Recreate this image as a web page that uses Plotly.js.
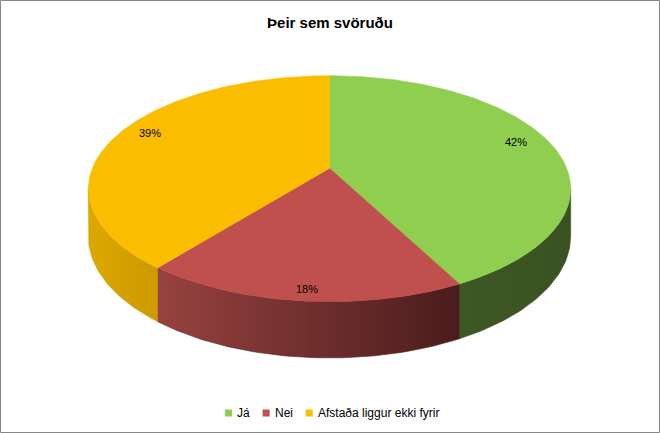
<!DOCTYPE html>
<html>
<head>
<meta charset="utf-8">
<script src="https://cdn.plot.ly/plotly-3.0.1.min.js"></script>
<style>
  html, body { margin: 0; padding: 0; background: #ffffff; }
  #chart { width: 660px; height: 433px; }
</style>
</head>
<body>
<div id="chart"></div>
<script>
// ---- data ----
const categories = ['Já', 'Nei', 'Afstaða liggur ekki fyrir'];
const values = [42.4, 18.3, 39.3];
const chartTitle = 'Þeir sem svöruðu';

// ---- styles ----
const topColors = ['#90CE50', '#C0504D', '#FABD00'];
const sideStops = [
  ['#3E5824', '#3A5222'],
  ['#97423F', '#4A1C1D'],
  ['#DCA800', '#CD9A00']
];
const FONT = '"Liberation Sans", Arial, sans-serif';

// ---- 3D pie geometry (pixel space of the plot) ----
const W = 660, H = 433;
const cx = 329.5, cy = 168.3, R = 237.2, Rs = 109.3, u = 0.1805, thick = 46.1;
const rad = d => d * Math.PI / 180;

function proj(deg, f, down) {
  const t = rad(deg);
  const den = 1 + u * f * Math.cos(t);
  return [cx + f * R * Math.sin(t) / den,
          cy - f * Rs * Math.cos(t) / den + (down || 0) / den];
}

const total = values.reduce((a, b) => a + b, 0);
const starts = [], ends = [];
let acc = 0;
values.forEach(v => { starts.push(acc / total * 360); acc += v; ends.push(acc / total * 360); });

const visL = Math.acos(-u) * 180 / Math.PI, visR = 360 - visL;

const traces = [];
// sides
values.forEach((v, i) => {
  const s = Math.max(starts[i], visL), e = Math.min(ends[i], visR);
  if (e <= s) return;
  const xs = [], ys = [];
  const n = Math.max(2, Math.ceil(e - s));
  for (let k = 0; k <= n; k++) { const p = proj(s + (e - s) * k / n, 1, 0); xs.push(p[0]); ys.push(p[1]); }
  for (let k = n; k >= 0; k--) { const p = proj(s + (e - s) * k / n, 1, thick); xs.push(p[0]); ys.push(p[1]); }
  xs.push(xs[0]); ys.push(ys[0]);
  const xmin = Math.min(...xs), xmax = Math.max(...xs);
  traces.push({
    type: 'scatter', mode: 'lines', x: xs, y: ys, fill: 'toself',
    fillgradient: { type: 'horizontal', start: xmin, stop: xmax,
      colorscale: [[0, sideStops[i][0]], [1, sideStops[i][1]]] },
    line: { width: 0.6, color: sideStops[i][1] }, hoverinfo: 'skip', showlegend: false
  });
});
// top faces
values.forEach((v, i) => {
  const xs = [cx], ys = [cy];
  const s = starts[i], e = ends[i];
  const n = Math.max(2, Math.ceil(e - s));
  for (let k = 0; k <= n; k++) { const p = proj(s + (e - s) * k / n, 1, 0); xs.push(p[0]); ys.push(p[1]); }
  xs.push(cx); ys.push(cy);
  traces.push({
    type: 'scatter', mode: 'lines', x: xs, y: ys, fill: 'toself', fillcolor: topColors[i],
    line: { width: 0.6, color: topColors[i] }, hoverinfo: 'skip', showlegend: false,
    name: categories[i]
  });
});

// data labels
const annotations = [];
values.forEach((v, i) => {
  const m = (starts[i] + ends[i]) / 2;
  const p = proj(m, 0.84, 0);
  annotations.push({
    x: p[0], y: p[1] - 2 - 15 * Math.cos(rad(m)), xref: 'x', yref: 'y',
    text: Math.round(v / total * 100) + '%', showarrow: false,
    font: { family: FONT, size: 11, color: '#000000' }, xanchor: 'center', yanchor: 'middle'
  });
});

// legend (custom, centered at bottom)
const shapes = [];
const ctx = document.createElement('canvas').getContext('2d');
ctx.font = '12px ' + FONT;
const sq = 7, gapTxt = 4, gapItem = 14, legY = 413;
const widths = categories.map(c => ctx.measureText(c).width);
let legW = 0;
widths.forEach((w, i) => { legW += sq + gapTxt + w + (i < widths.length - 1 ? gapItem : 0); });
let lx = 331.5 - legW / 2;
categories.forEach((c, i) => {
  shapes.push({ type: 'rect', xref: 'x', yref: 'y', x0: lx, x1: lx + sq, y0: legY - sq / 2, y1: legY + sq / 2,
    fillcolor: topColors[i], line: { width: 0 } });
  annotations.push({ x: lx + sq + gapTxt, y: legY, xref: 'x', yref: 'y', text: c, showarrow: false,
    xanchor: 'left', yanchor: 'middle', font: { family: FONT, size: 12, color: '#000000' }, borderpad: 0 });
  lx += sq + gapTxt + widths[i] + gapItem;
});
// chart border
shapes.push({ type: 'rect', xref: 'x', yref: 'y', x0: 0.5, x1: W - 0.5, y0: 0.5, y1: H - 0.5,
  line: { color: '#868686', width: 1 }, fillcolor: 'rgba(0,0,0,0)' });

const layout = {
  width: W, height: H,
  margin: { l: 0, r: 0, t: 0, b: 0 },
  paper_bgcolor: '#ffffff', plot_bgcolor: '#ffffff',
  title: { text: '<b>' + chartTitle + '</b>', font: { family: FONT, size: 15, color: '#000000' },
    x: 0.5, xanchor: 'center', y: 1 - 22.5 / H, yref: 'container', yanchor: 'middle' },
  xaxis: { range: [0, W], visible: false, fixedrange: true },
  yaxis: { range: [H, 0], visible: false, fixedrange: true },
  showlegend: false,
  annotations: annotations,
  shapes: shapes
};

Plotly.newPlot('chart', traces, layout, { staticPlot: true, displayModeBar: false });
</script>
</body>
</html>
